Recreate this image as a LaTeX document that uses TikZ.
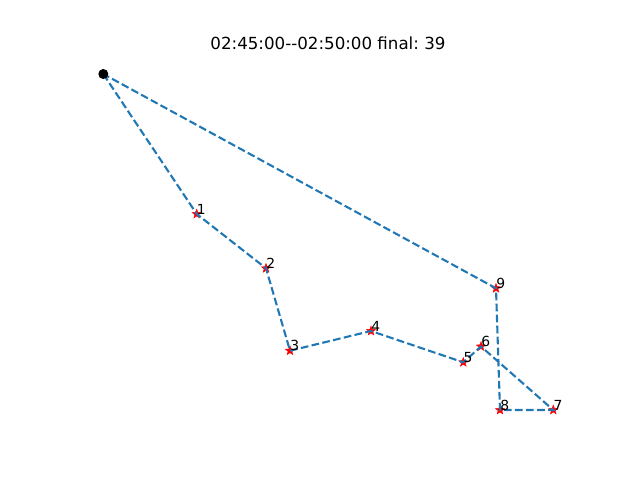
\documentclass[tikz,border=0pt]{standalone}
\usepackage{fontspec}
\setmainfont{DejaVu Sans}
\usetikzlibrary{shapes.geometric}
\definecolor{mplblue}{HTML}{1F77B4}
\tikzset{
  route/.style={draw=mplblue, line width=1.5pt, dash pattern=on 5.55pt off 2.4pt},
  cust/.style={star, star points=5, star point ratio=2.4, fill=red, draw=red, line width=0.3pt, inner sep=0pt, minimum size=7pt},
  depotmark/.style={circle, fill=black, inner sep=0pt, minimum size=7.2pt},
  lbl/.style={anchor=base west, inner sep=0pt, font=\fontsize{10}{12}\selectfont}
}
\begin{document}
\begin{tikzpicture}[x=0.72pt, y=-0.72pt]
\useasboundingbox (0,0) rectangle (640,480);
\node[cust] (n1) at (196.7,214) {};
\node[cust] (n2) at (266,268.3) {};
\node[cust] (n3) at (290,350.7) {};
\node[cust] (n4) at (371,331) {};
\node[cust] (n5) at (463.3,362.3) {};
\node[cust] (n6) at (481,346.5) {};
\node[cust] (n7) at (553.3,410) {};
\node[cust] (n8) at (500,410) {};
\node[cust] (n9) at (496,288.3) {};
\coordinate (d) at (103.3,74);
\draw[route] (d) -- (n1.center) -- (n2.center) -- (n3.center) -- (n4.center) -- (n5.center) -- (n6.center) -- (n7.center) -- (n8.center) -- (n9.center) -- (d);
\node[depotmark] (depot) at (d) {};
\node[lbl] (l1) at (n1.center) {1};
\node[lbl] (l2) at (n2.center) {2};
\node[lbl] (l3) at (n3.center) {3};
\node[lbl] (l4) at (n4.center) {4};
\node[lbl] (l5) at (n5.center) {5};
\node[lbl] (l6) at (n6.center) {6};
\node[lbl] (l7) at (n7.center) {7};
\node[lbl] (l8) at (n8.center) {8};
\node[lbl] (l9) at (n9.center) {9};
\node[anchor=base, inner sep=0pt, font=\fontsize{12}{14}\selectfont\frenchspacing] (title) at (328,49) {02:45:00-{}-02:50:00 final: 39};
\end{tikzpicture}
\end{document}
